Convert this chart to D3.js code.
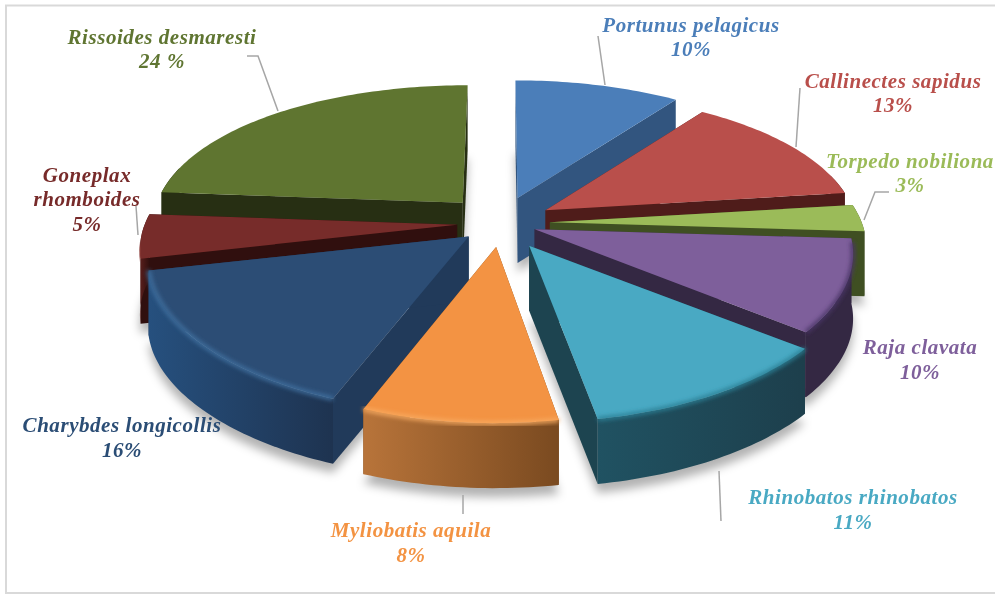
<!DOCTYPE html>
<html>
<head>
<meta charset="utf-8">
<script src="https://cdn.jsdelivr.net/npm/d3@7"></script>
<style>
html,body{margin:0;padding:0;background:#fff;}
svg{display:block;}
text{font-family:"Liberation Serif",serif;font-style:italic;font-weight:bold;font-size:21px;letter-spacing:0.55px;text-anchor:middle;}
</style>
</head>
<body>
<svg id="chart" width="995" height="594"></svg>
<script>
// ===============================
// DATA
// ===============================

const species=["Portunus pelagicus","Callinectes sapidus","Torpedo nobiliona","Raja clavata","Rhinobatos rhinobatos","Myliobatis aquila","Charybdes longicollis","Goneplax rhomboides","Rissoides desmaresti"];

// the printed labels are rounded
const shares=[10,13,3,10,11.3,8.45,15.55,4.9,23.8];

// how far each slice was pulled out of the pie
const explosion=[1.1,1.05,0.98,0.72,1.1,1,0.85,0.88,1.15];

// ===============================
// STYLES AND LAYOUT
// ===============================

const topColors=["#4b7eb9","#b94f4b","#9bbb59","#7e5f9b","#49a9c3","#f39343","#2c4d75","#772c2a","#5f7530"];
const wallColors=["#32557f","#4f1c1a","#3f4f22","#342843","#1d4450","#7a4a20","#213a5a","#300f0e","#272f13"];
const rimLeft=["#32557f","#4f1c1a","#3f4f22","#342843","#205262","#b8743a","#26507e","#5a1f1d","#272f13"];
const rimRight=["#32557f","#4f1c1a","#3f4f22","#342843","#1d3f4c","#7a4a20","#1e3350","#300f0e","#272f13"];
const bevelColors=["#4b7eb9","#b94f4b","#7f9a48","#4a3566","#2b7f94","#f8aa60","#3f6f9f","#8a3a38","#5f7530"];

const labelLines=[
    {x:691,y:[32,56],lines:["Portunus pelagicus","10%"]},
    {x:893,y:[88,112],lines:["Callinectes sapidus","13%"]},
    {x:910,y:[168,192],lines:["Torpedo nobiliona","3%"]},
    {x:920,y:[354,379],lines:["Raja clavata","10%"]},
    {x:853,y:[504,529],lines:["Rhinobatos rhinobatos","11%"]},
    {x:411,y:[537,562],lines:["Myliobatis aquila","8%"]},
    {x:122,y:[432,457],lines:["Charybdes longicollis","16%"]},
    {x:87,y:[182,206,231],lines:["Goneplax","rhomboides","5%"]},
    {x:162,y:[44,68],lines:["Rissoides desmaresti","24 %"]}
];

const leaders=[
    [[598,36],[605,85]],
    [[800,88],[796,147]],
    [[889,192],[875,192],[864,220]],
    [],
    [[719,471],[721,521]],
    [[463,495],[463,514]],
    [],
    [[136,206],[138,235]],
    [[247,56],[258,56],[278,111]]
];

const centerX=501, centerY=223;
const perspectiveX=0.15, perspectiveY=0.2;
const depth=65;

// ===============================
// SCALES
// ===============================

const xScale=d3.scaleLinear().domain([-1,1]).range([-312,312]);
const yScale=d3.scaleLinear().domain([-1,1]).range([-141,141]);
const explodeAmount=d3.scaleLinear().domain([0,1]).range([0,0.16]);
const explodeY=d3.scaleLinear().domain([0,1]).range([0,24]);

const pie=d3.pie().sort(null).value(d=>d.share);

const slices=pie(species.map((name,i)=>({name:name,share:shares[i],index:i})));

slices.forEach(s=>{
    const mid=(s.startAngle+s.endAngle)/2;
    const e=explosion[s.data.index];
    s.mid=mid;
    s.ox=explodeAmount(e)*Math.sin(mid);
    s.oy=-explodeAmount(e)*Math.cos(mid);
    s.ay=centerY-explodeY(e)*Math.cos(mid);
});

// point on a slice at radius r, x converges towards the far side of the pie
function slicePoint(s,angle,r,drop){
    const wy=-r*Math.cos(angle);
    const kx=1/(1-perspectiveX*(s.oy+wy));
    const ky=1/(1-perspectiveY*wy);
    return [centerX+xScale(s.ox+r*Math.sin(angle))*kx, s.ay+yScale(wy)*ky+drop];
}

function arcPoints(s,from,to,drop){
    const n=Math.max(2,Math.ceil((to-from)/0.02));
    return d3.range(n+1).map(i=>slicePoint(s,from+(to-from)*i/n,1,drop));
}

const line=d3.line();

function topPath(s){
    return line([slicePoint(s,s.mid,0,0)].concat(arcPoints(s,s.startAngle,s.endAngle,0)))+"Z";
}

function wallPath(s,angle){
    const a=slicePoint(s,s.mid,0,0);
    const p=slicePoint(s,angle,1,0);
    return line([a,p,[p[0],p[1]+depth],[a[0],a[1]+depth]])+"Z";
}

const rad=Math.PI/180;

function arcWithin(s,from,to){
    const a=Math.max(s.startAngle,from), b=Math.min(s.endAngle,to);
    return a<b ? [a,b] : null;
}

function rimPath(s){
    const r=arcWithin(s,75*rad,285*rad);
    if(!r) return null;
    return line(arcPoints(s,r[0],r[1],0).concat(arcPoints(s,r[0],r[1],depth).reverse()))+"Z";
}

// ===============================
// DRAW
// ===============================

const svg=d3.select("#chart");
const defs=svg.append("defs");

defs.append("filter").attr("id","shadow")
    .attr("x","-10%").attr("y","-10%").attr("width","120%").attr("height","120%")
    .append("feGaussianBlur").attr("stdDeviation",5);

defs.append("filter").attr("id","bevel")
    .attr("x","-10%").attr("y","-20%").attr("width","120%").attr("height","140%")
    .append("feGaussianBlur").attr("stdDeviation",2);

defs.append("filter").attr("id","soft")
    .append("feGaussianBlur").attr("stdDeviation",0.4);

slices.forEach(s=>{
    const i=s.data.index;
    const g=defs.append("linearGradient").attr("id","rim"+i);
    g.append("stop").attr("offset","0%").attr("stop-color",rimLeft[i]);
    g.append("stop").attr("offset","100%").attr("stop-color",rimRight[i]);
});

// chart frame
svg.append("rect")
    .attr("x",6).attr("y",5.5)
    .attr("width",992).attr("height",587.5)
    .attr("fill","#fff")
    .attr("stroke","#d9d9d9")
    .attr("stroke-width",2);

// soft shadow under the pie
const shadow=svg.append("g")
    .attr("filter","url(#shadow)")
    .attr("transform","translate(0,9)")
    .attr("fill","#000")
    .attr("fill-opacity",0.3);

slices.forEach(s=>{
    shadow.append("path").attr("d",topPath(s)).attr("transform",`translate(0,${depth})`);
});

// far slices first, near slices paint over them
const ordered=slices.slice().sort((a,b)=>Math.cos(b.mid)-Math.cos(a.mid));

const sliceGroups=svg.selectAll(".slice")
    .data(ordered)
    .enter()
    .append("g")
    .attr("class","slice");

sliceGroups.each(function(s){

    const g=d3.select(this);
    const i=s.data.index;

    g.append("path").attr("d",wallPath(s,s.startAngle)).attr("fill",wallColors[i]);
    g.append("path").attr("d",wallPath(s,s.endAngle)).attr("fill",wallColors[i]);

    const rim=rimPath(s);

    if(rim){
        g.append("path").attr("d",rim).attr("fill",`url(#rim${i})`);
    }

    g.append("path").attr("d",topPath(s)).attr("fill",topColors[i]);

    const r=arcWithin(s,95*rad,262*rad);

    if(r){
        g.append("path")
            .attr("d",line(arcPoints(s,r[0],r[1],0)))
            .attr("fill","none")
            .attr("stroke",bevelColors[i])
            .attr("stroke-width",4)
            .attr("filter","url(#bevel)");
    }

});

// ===============================
// LEADER LINES AND LABELS
// ===============================

svg.append("g").selectAll("path")
    .data(leaders.filter(d=>d.length))
    .enter()
    .append("path")
    .attr("d",d=>line(d))
    .attr("fill","none")
    .attr("stroke","#a6a6a6")
    .attr("stroke-width",1.5);

const labelGroup=svg.append("g").attr("filter","url(#soft)");

slices.forEach(s=>{

    const i=s.data.index;
    const label=labelLines[i];

    const text=labelGroup.append("text").attr("fill",topColors[i]);

    label.lines.forEach((t,k)=>{
        text.append("tspan").attr("x",label.x).attr("y",label.y[k]).text(t);
    });

});
</script>
</body>
</html>
